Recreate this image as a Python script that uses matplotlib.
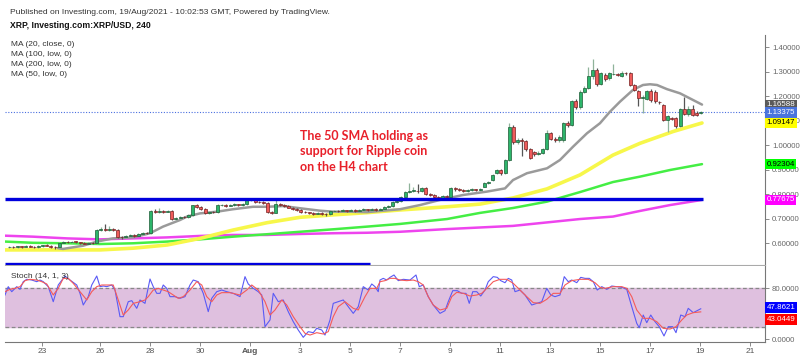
import matplotlib
matplotlib.use("Agg")
import matplotlib.pyplot as plt
import matplotlib.transforms as mtransforms
import numpy as np

# ---------------- data ----------------
# 4H candles, x in days relative to 1 Aug 2021 00:00
first_day = -9.63
step_day = 1.0 / 6.0

opens = [.583,.586,.584,.587,.585,.588,.586,.584,.589,.592, .590,.586,.584,.603,.606,.604,.607,.605,.601,.599,
         .602,.600,.655,.657,.655,.658,.654,.626,.624,.628, .632,.630,.636,.641,.640,.730,.728,.731,.729,.731,
         .700,.705,.708,.706,.714,.755,.750,.740,.725,.728, .727,.755,.757,.754,.756,.758,.756,.760,.776,.778,
         .770,.768,.765,.727,.725,.760,.757,.752,.746,.740, .735,.729,.726,.723,.721,.724,.720,.718,.731,.733,
         .730,.734,.732,.735,.733,.736,.738,.736,.739,.737, .740,.748,.752,.768,.772,.790,.810,.813,.815,.812,
         .825,.800,.797,.790,.786,.792,.790,.824,.820,.817, .815,.818,.820,
         .818,.831,.845,.858,.886,.899,.886,.940,1.076,1.015, 1.020,1.017,.984,.972,.966,.970,.985,1.049,1.027,1.020,
         1.021,1.092,1.083,1.180,1.158,1.219,1.233,1.283,1.307,1.250, 1.287,1.274,1.290,1.292,1.283,1.296,1.294,1.246,1.220,1.193,
         1.190,1.220,1.218,1.178,1.165,1.104,1.111,1.111,1.079,1.147, 1.128,1.147,1.130,1.131]
highs = [.590,.589,.590,.589,.592,.591,.588,.592,.595,.596, .593,.589,.606,.609,.609,.610,.609,.607,.604,.605,
         .606,.660,.665,.680,.670,.662,.657,.630,.632,.636, .636,.640,.645,.648,.735,.740,.745,.736,.737,.734,
         .709,.712,.711,.718,.758,.760,.754,.744,.732,.733, .760,.762,.760,.760,.763,.762,.765,.780,.782,.780,
         .773,.771,.768,.731,.782,.763,.760,.755,.749,.743, .738,.732,.729,.727,.728,.727,.723,.734,.737,.736,
         .738,.737,.739,.738,.740,.742,.741,.743,.742,.744, .752,.756,.772,.776,.794,.814,.845,.830,.840,.830,
         .828,.804,.800,.794,.796,.797,.828,.828,.824,.821, .822,.824,.823,
         .826,.850,.856,.884,.904,.903,.945,1.090,1.082,1.030, 1.030,1.022,.990,.978,.976,.990,1.063,1.055,1.032,1.040,
         1.097,1.098,1.186,1.190,1.225,1.240,1.318,1.351,1.315,1.300, 1.295,1.300,1.333,1.296,1.302,1.300,1.298,1.250,1.225,1.205,
         1.226,1.228,1.225,1.182,1.170,1.125,1.116,1.115,1.152,1.198, 1.160,1.165,1.140,1.140]
lows = [.580,.581,.582,.582,.583,.583,.580,.582,.586,.587, .582,.578,.582,.600,.600,.601,.602,.598,.596,.596,
        .597,.598,.650,.652,.651,.650,.622,.618,.620,.625, .626,.628,.633,.636,.638,.722,.724,.725,.726,.697,
        .697,.701,.702,.703,.712,.746,.736,.721,.721,.723, .725,.752,.750,.751,.752,.752,.753,.757,.771,.766,
        .764,.761,.722,.720,.722,.752,.748,.742,.736,.731, .725,.722,.719,.717,.718,.716,.712,.716,.728,.726,
        .727,.728,.729,.729,.730,.733,.732,.733,.733,.734, .736,.745,.750,.765,.770,.787,.806,.808,.806,.808,
        .796,.792,.786,.781,.782,.786,.788,.815,.812,.810, .811,.814,.813,
        .814,.828,.842,.855,.882,.880,.884,.935,1.005,1.005, .956,.978,.945,.958,.962,.965,.980,1.020,1.012,1.012,
        1.015,1.075,1.078,1.150,1.150,1.212,1.228,1.270,1.240,1.245, 1.262,1.268,1.285,1.282,1.278,1.288,1.240,1.220,1.160,1.133,
        1.185,1.178,1.172,1.170,1.098,1.056,1.104,1.072,1.075,1.122, 1.120,1.118,1.118,1.128]
closes = [.586,.584,.587,.585,.588,.586,.584,.589,.592,.590, .586,.584,.603,.606,.604,.607,.605,.601,.599,.602,
          .600,.655,.657,.655,.658,.654,.626,.624,.628,.632, .630,.636,.641,.640,.730,.728,.731,.729,.731,.700,
          .705,.708,.706,.714,.755,.750,.740,.725,.728,.727, .755,.757,.754,.756,.758,.756,.760,.776,.778,.770,
          .768,.765,.727,.725,.760,.757,.752,.746,.740,.735, .729,.726,.723,.721,.724,.720,.718,.731,.733,.730,
          .734,.732,.735,.733,.736,.738,.736,.739,.737,.740, .748,.752,.768,.772,.790,.810,.813,.815,.812,.825,
          .800,.797,.790,.786,.792,.790,.824,.820,.817,.815, .818,.820,.818,
          .822,.845,.852,.880,.899,.886,.940,1.076,1.015,1.020, 1.018,.984,.950,.966,.970,.985,1.049,1.027,1.020,1.034,
          1.092,1.083,1.180,1.158,1.219,1.233,1.283,1.307,1.250,1.294, 1.270,1.294,1.292,1.288,1.296,1.294,1.246,1.226,1.193,1.196,
          1.220,1.183,1.179,1.176,1.104,1.118,1.109,1.079,1.147,1.128, 1.147,1.125,1.125,1.134]

# moving averages (day, price)
ma20_days = [-7.68,-7.48,-6.68,-6.12,-5.48,-4.68,-4.0,-3.48,-2.8,-2.52,-2.0,-1.32,-0.68,0.12,0.68,1.32,2.0,2.8,3.32,4.0,
             4.68,5.32,6.0,6.8,7.6,8.52,9.48,10.2,10.52,11.08,11.88,12.4,12.92,13.48,14.0,14.4,14.8,15.32,15.72,16.0,
             16.28,16.68,17.2,18.08]
ma20_vals = [0.580,0.577,0.590,0.607,0.620,0.624,0.641,0.668,0.695,0.709,0.722,0.729,0.739,0.749,0.749,0.752,0.743,0.733,0.729,0.729,
             0.727,0.733,0.739,0.756,0.777,0.797,0.811,0.824,0.858,0.886,0.906,0.940,0.994,1.049,1.090,1.137,1.178,1.226,1.246,1.249,
             1.246,1.229,1.212,1.166]
ma50_days = [-9.8,-7.32,-6.0,-4.68,-3.32,-2.0,-0.68,0.68,2.0,3.32,4.68,6.0,7.88,9.2,10.52,11.88,13.2,14.52,15.6,16.92,18.08]
ma50_vals = [0.573,0.573,0.573,0.580,0.593,0.620,0.654,0.684,0.706,0.716,0.725,0.736,0.749,0.760,0.785,0.822,0.879,0.960,1.008,1.056,1.091]
ma100_days = [-9.8,-8.68,-7.32,-6.0,-4.68,-3.32,-2.0,-0.68,0.68,2.0,3.32,4.68,6.0,7.88,9.2,10.52,11.88,13.2,14.52,15.6,16.8,18.08]
ma100_vals = [0.607,0.602,0.600,0.597,0.600,0.607,0.616,0.627,0.637,0.647,0.657,0.668,0.679,0.699,0.724,0.744,0.770,0.809,0.850,0.872,0.899,0.923]
ma200_days = [-9.8,-8.68,-7.32,-6.0,-4.68,-3.32,-2.0,-0.68,0.68,2.0,3.32,4.68,6.0,7.88,10.52,13.2,14.52,15.6,16.8,18.08]
ma200_vals = [0.631,0.627,0.620,0.616,0.620,0.624,0.630,0.634,0.634,0.638,0.641,0.643,0.647,0.658,0.671,0.699,0.709,0.732,0.756,0.777]

# stochastic (14,1,3)
k_days = [-9.8,-9.67,-9.53,-9.33,-9.2,-9.07,-8.93,-8.73,-8.53,-8.4,-8.27,-8.07,-7.87,-7.67,-7.4,-7.2,-6.93,-6.8,-6.67,-6.47,
          -6.33,-6.13,-6.0,-5.87,-5.73,-5.53,-5.4,-5.2,-5.07,-4.87,-4.73,-4.53,-4.4,-4.2,-4.0,-3.87,-3.73,-3.6,-3.47,-3.33,
          -3.2,-3.0,-2.8,-2.6,-2.4,-2.27,-2.07,-1.87,-1.67,-1.53,-1.33,-1.13,-0.93,-0.67,-0.4,-0.2,-0.07,0.13,0.33,0.47,
          0.6,0.8,0.93,1.13,1.33,1.53,1.73,1.93,2.13,2.33,2.53,2.67,2.87,3.0,3.2,3.33,3.53,3.73,3.93,4.13,
          4.33,4.53,4.73,4.87,5.0,5.13,5.2,5.33,5.47,5.6,5.76,5.93,6.13,6.4,6.64,6.77,6.93,7.13,7.33,7.6,
          7.8,7.93,8.11,8.29,8.47,8.64,8.77,8.91,9.07,9.23,9.4,9.53,9.73,9.89,10.03,10.2,10.33,10.47,10.6,10.8,
          11.0,11.27,11.47,11.67,11.87,12.03,12.2,12.4,12.57,12.73,12.87,13.07,13.23,13.4,13.57,13.73,13.89,14.07,14.27,14.47,
          14.67,14.87,15.07,15.27,15.47,15.57,15.73,15.87,16.03,16.2,16.37,16.56,16.73,16.91,17.04,17.23,17.4,17.53,17.73,18.03]
k_vals = [69.5,82.6,74.7,82.6,78.4,90.4,94.1,93.0,90.4,93.0,90.4,82.6,59.0,85.2,99.3,93.0,85.2,72.1,53.8,66.9,
          85.2,99.3,82.6,83.6,82.6,85.2,77.3,35.5,35.5,59.0,60.6,48.6,61.7,56.4,94.6,82.6,72.1,72.1,85.2,79.9,
          66.9,66.9,64.3,66.9,85.2,93.0,90.4,72.1,43.4,64.3,74.7,77.3,74.7,72.1,66.9,98.3,86.8,80.0,74.7,69.5,
          19.8,30.3,72.1,59.0,61.7,43.4,27.7,14.6,3.1,12.0,10.4,17.2,14.6,6.7,30.3,56.4,59.0,61.7,51.2,40.7,
          51.2,82.6,77.3,86.8,82.6,74.7,93.0,95.6,93.0,97.2,100.9,92.0,94.1,93.0,100.9,82.6,85.2,66.9,53.8,40.7,
          44.9,59.0,76.3,76.3,72.1,72.1,56.4,74.7,74.7,67.9,77.3,90.4,98.3,97.2,92.0,88.8,95.6,93.0,74.7,77.3,
          69.5,53.8,56.4,59.0,79.9,69.5,66.9,69.5,98.3,90.4,93.0,88.8,97.2,95.6,95.6,90.4,77.3,82.6,78.4,83.6,
          82.6,81.5,78.4,51.2,25.0,18.2,38.1,26.1,38.1,27.7,19.8,5.2,19.8,19.8,10.4,38.1,35.5,48.6,41.8,47.86]
d_days = [-9.8,-9.6,-9.4,-9.2,-9.0,-8.8,-8.53,-8.33,-8.13,-7.87,-7.67,-7.47,-7.27,-7.07,-6.8,-6.53,-6.33,-6.13,-5.93,-5.73,
          -5.47,-5.27,-5.07,-4.87,-4.67,-4.4,-4.2,-4.07,-3.87,-3.67,-3.47,-3.27,-3.07,-2.87,-2.67,-2.4,-2.13,-1.93,-1.73,-1.53,
          -1.33,-1.13,-0.8,-0.4,-0.13,0.07,0.33,0.6,0.8,1.0,1.27,1.47,1.73,2.0,2.2,2.4,2.67,2.93,3.13,3.33,
          3.53,3.8,4.13,4.33,4.6,4.8,5.07,5.2,5.4,5.6,5.8,6.0,6.27,6.53,6.73,6.93,7.13,7.33,7.6,7.87,
          8.07,8.27,8.53,8.8,9.07,9.27,9.47,9.73,10.0,10.27,10.53,10.8,11.07,11.33,11.6,11.87,12.13,12.4,12.6,12.87,
          13.2,13.53,13.8,14.0,14.2,14.53,14.87,15.07,15.27,15.47,15.73,16.0,16.27,16.53,16.8,17.04,17.27,17.47,17.73,18.03]
d_vals = [74.7,78.4,79.9,82.6,92.0,94.1,93.0,90.4,86.8,69.5,79.9,95.6,95.6,87.8,74.7,61.7,74.7,82.6,85.2,85.2,
          85.2,61.7,38.1,46.0,56.4,59.0,61.7,66.9,77.3,79.9,77.3,74.7,69.5,64.3,66.9,77.3,90.4,85.2,66.9,59.0,
          69.5,73.2,73.2,69.5,77.3,85.2,77.3,59.0,38.1,46.0,61.7,53.8,35.5,19.8,9.4,6.7,10.4,8.3,12.0,35.5,
          51.2,59.0,48.6,46.0,66.9,79.9,79.9,90.4,92.0,95.6,95.6,93.0,92.0,93.0,90.4,85.2,66.9,53.8,46.0,48.6,
          66.9,73.7,72.1,67.9,69.5,72.1,79.9,90.4,94.1,94.1,87.8,77.3,66.9,57.5,56.4,62.7,72.1,72.1,85.2,92.0,
          94.1,94.1,88.8,81.5,79.9,82.6,82.6,79.9,66.9,46.0,32.9,32.9,27.7,17.2,16.1,19.8,30.3,38.1,41.8,43.04]

support_level = 0.7800
lower_level = 0.5140
last_price = 1.13375
tick_days = [-8.3, -6, -4, -2, 0, 2, 4, 6, 8, 10, 12, 14, 16, 18, 20]
tick_labels = ["23", "26", "28", "30", "Aug", "3", "5", "7", "9", "11", "13", "15", "17", "19", "21"]
price_ticks = [0.6, 0.7, 0.8, 0.9, 1.0, 1.1, 1.2, 1.3, 1.4]
stoch_ticks = [0, 80]

# ---------------- figure ----------------
plt.rcParams['font.family'] = ['Liberation Sans', 'DejaVu Sans']
fig = plt.figure(figsize=(8.0, 3.57), dpi=100)
fig.patch.set_facecolor('white')

W, H = 800.0, 357.0
def frac_rect(x0, y0, x1, y1):
    return [x0 / W, 1 - y1 / H, (x1 - x0) / W, (y1 - y0) / H]

ax = fig.add_axes(frac_rect(5, 35, 765, 265))
axs = fig.add_axes(frac_rect(5, 266, 765, 341.7), sharex=ax)

xmin, xmax = -9.8, 20.6
ax.set_xlim(xmin, xmax)
ax.set_ylim(0.5114, 1.450)
axs.set_ylim(-3.76, 115.0)

n = len(closes)
xs = first_day + np.arange(n) * step_day
o = np.array(opens); h = np.array(highs); l = np.array(lows); c = np.array(closes)
up = c >= o
green_body, green_edge = '#2db56b', '#1d5b36'
red_body, red_edge = '#ef5b5b', '#7a2222'
# wicks
ax.vlines(xs[up], l[up], h[up], color='#8fb39a', lw=0.9, zorder=3)
ax.vlines(xs[~up], l[~up], h[~up], color='#555555', lw=0.9, zorder=3)
bw = 0.115
body_h = np.maximum(np.abs(c - o), 0.0025)
ax.bar(xs[up], body_h[up], bottom=np.minimum(o, c)[up], width=bw, color=green_body,
       edgecolor=green_edge, linewidth=0.5, zorder=4)
ax.bar(xs[~up], body_h[~up], bottom=np.minimum(o, c)[~up], width=bw, color=red_body,
       edgecolor=red_edge, linewidth=0.5, zorder=4)

# moving averages
ax.plot(ma200_days, ma200_vals, color='#ee44ee', lw=1.8, zorder=2, solid_capstyle='round')
ax.plot(ma100_days, ma100_vals, color='#44ee44', lw=1.8, zorder=2, solid_capstyle='round')
ax.plot(ma50_days, ma50_vals, color='#f7f74a', lw=2.6, zorder=2, solid_capstyle='round')
ax.plot(ma20_days, ma20_vals, color='#9a9a9a', lw=1.8, zorder=2, solid_capstyle='round')

# support lines
ax.hlines(support_level, xmin + 0.02, 18.1, color='#0000dd', lw=2.4, zorder=5)
ax.hlines(lower_level, xmin + 0.02, 4.8, color='#0000dd', lw=2.4, zorder=5)
ax.axhline(last_price, color='#4a6fe0', lw=0.8, ls=(0, (1, 1.5)), zorder=1)

# annotation
ax.text(2.0, 1.064, "The 50 SMA holding as\nsupport for Ripple coin\non the H4 chart",
        color='#e8202a', fontsize=9.0, fontweight='bold', family=['Lato', 'DejaVu Sans'],
        linespacing=1.38, va='top', ha='left', zorder=6)

# axes styling (price)
for sp in ['top', 'left']:
    ax.spines[sp].set_visible(False)
ax.spines['right'].set_color('#777777')
ax.spines['bottom'].set_color('#aaaaaa')
ax.yaxis.tick_right()
ax.set_yticks(price_ticks)
ax.set_yticklabels([f"{v:.5f}" for v in price_ticks])
ax.tick_params(axis='y', colors='#777777', labelcolor='#666666', labelsize=5.6, length=3, width=0.6, pad=2)
ax.tick_params(axis='x', bottom=False, labelbottom=False)
ax.set_facecolor('white')

# stochastic panel
axs.axhspan(20, 80, color='#dfc0df', zorder=0)
axs.axhline(80, color='#888888', lw=0.9, ls=(0, (3, 2)), zorder=1)
axs.axhline(20, color='#888888', lw=0.9, ls=(0, (3, 2)), zorder=1)
axs.plot(k_days, k_vals, color='#5a5af5', lw=0.8, zorder=3)
axs.plot(d_days, d_vals, color='#f55a5a', lw=0.8, zorder=3)
for sp in ['top', 'left']:
    axs.spines[sp].set_visible(False)
axs.spines['right'].set_color('#777777')
axs.spines['bottom'].set_color('#777777')
axs.yaxis.tick_right()
axs.set_yticks(stoch_ticks)
axs.set_yticklabels([f"{v:.4f}" for v in stoch_ticks])
axs.tick_params(axis='y', colors='#777777', labelcolor='#666666', labelsize=5.6, length=3, width=0.6, pad=2)
axs.set_xticks(tick_days)
axs.set_xticklabels(tick_labels)
axs.tick_params(axis='x', colors='#777777', labelcolor='#555555', labelsize=6.0, length=3, width=0.6, pad=1.5)
for lab in axs.get_xticklabels():
    if lab.get_text() == "Aug":
        lab.set_fontweight('bold')
axs.text(0.008, 0.86, "Stoch (14, 1, 3)", transform=axs.transAxes, fontsize=6.0, color='#333333', va='center')

# value tags
def tag(axis, y, text, fc, tc):
    tr = mtransforms.blended_transform_factory(axis.transAxes, axis.transData)
    axis.text(1.002, y, text, transform=tr, fontsize=5.7, color=tc, ha='left', va='center', zorder=10,
              bbox=dict(boxstyle='square,pad=0.2', fc=fc, ec='none'), clip_on=False)

tag(ax, 1.16588, "1.16588", '#5a5a5a', 'white')
tag(ax, 1.13375, "1.13375", '#4a74dc', 'white')
tag(ax, 1.09147, "1.09147", '#ffff00', 'black')
tag(ax, 0.92304, "0.92304", '#00ff00', 'black')
tag(ax, 0.77675, "0.77675", '#ff00ff', 'white')
tag(axs, 47.8621 + 2.0, "47.8621", '#0000ff', 'white')
tag(axs, 43.0449 - 12.0, "43.0449", '#ff0000', 'white')

# header
fig.text(10 / W, 1 - 12 / H, "Published on Investing.com, 19/Aug/2021 - 10:02:53 GMT, Powered by TradingView.",
         fontsize=6.1, color='#333333', va='center')
fig.text(10 / W, 1 - 25 / H, "XRP, Investing.com:XRP/USD, 240", fontsize=6.2, color='#111111',
         fontweight='bold', va='center')
for k, s in enumerate(["MA (20, close, 0)", "MA (100, low, 0)", "MA (200, low, 0)", "MA (50, low, 0)"]):
    fig.text(11 / W, 1 - (45 + 10 * k) / H, s, fontsize=6.0, color='#333333', va='center')

fig.savefig("out.png", dpi=100, facecolor='white')
